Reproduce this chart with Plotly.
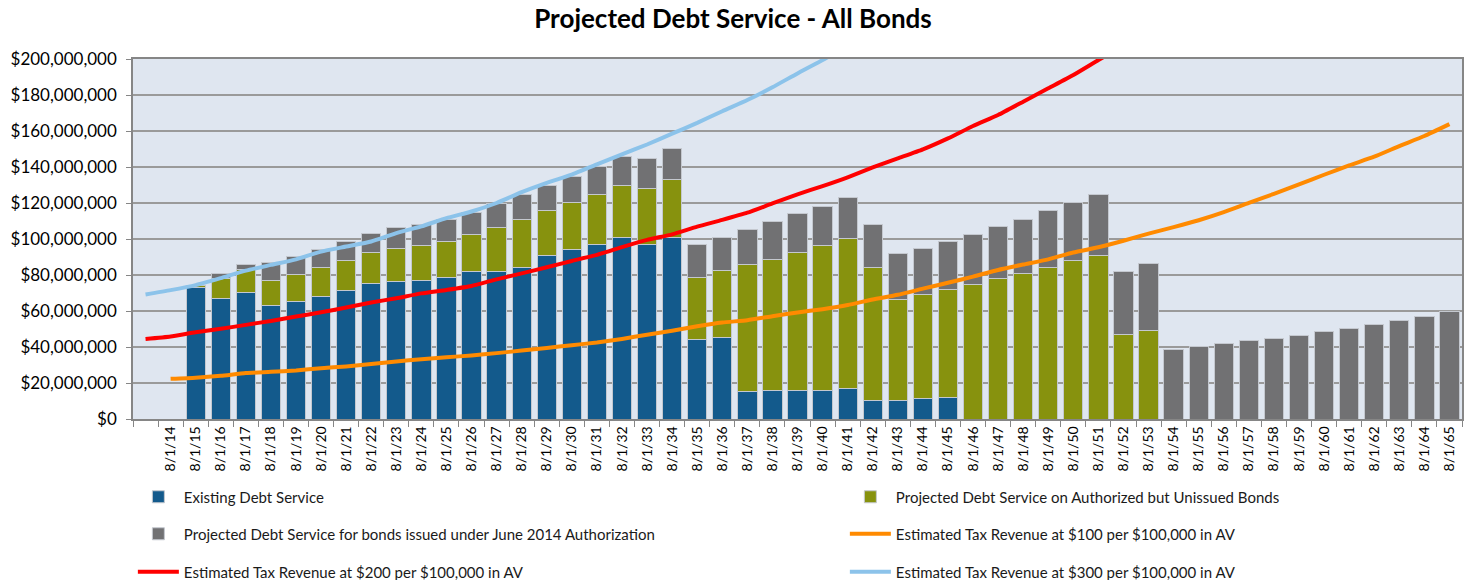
import plotly.graph_objects as go

# ---- data (values in $ millions) ----
categories = [" "] + [f"8/1/{y}" for y in range(14, 66)]

# stacked bar segments, one value per category (None = no bar)
existing = [None, None,
            73.1, 66.8, 70.1, 62.9, 65.5, 67.9, 71.6, 75.5, 76.3, 76.8,
            78.5, 81.7, 81.7, 84.1, 90.8, 94.0, 96.9, 100.8, 97.1, 100.8,
            43.9, 45.4, 15.3, 16.0, 16.0, 16.0, 16.7, 10.4, 10.4, 11.5, 12.1,
            None, None, None, None, None, None, None, None,
            None, None, None, None, None, None, None, None, None, None, None, None]

authorized = [None, None,
              0.9, 11.3, 13.1, 13.9, 14.7, 16.4, 16.2, 17.0, 18.6, 19.8,
              20.3, 20.8, 24.9, 27.0, 24.9, 26.2, 28.1, 28.7, 30.9, 32.0,
              34.8, 37.0, 70.3, 72.7, 76.5, 80.6, 83.6, 73.9, 56.0, 57.9, 59.7,
              74.8, 78.0, 80.9, 84.3, 87.8, 91.0, 46.9, 49.1,
              None, None, None, None, None, None, None, None, None, None, None, None]

june2014 = [None, None,
            None, 2.8, 2.4, 10.3, 10.0, 9.7, 11.0, 10.8, 11.5, 11.3,
            12.3, 12.3, 13.0, 13.9, 14.0, 14.7, 15.5, 16.2, 16.9, 17.5,
            18.4, 18.6, 19.5, 20.9, 21.7, 21.4, 23.0, 23.6, 25.3, 25.5, 26.8,
            27.7, 29.0, 30.2, 31.4, 32.6, 34.0, 35.3, 37.2,
            38.7, 40.3, 41.8, 43.4, 44.9, 46.6, 48.8, 50.3, 52.5, 54.9, 57.2, 59.8]

rev100 = [None,
          22.3, 22.9, 24.0, 25.5, 26.2, 27.0, 28.2, 29.2, 30.5, 32.0,
          33.2, 34.3, 35.3, 36.6, 38.0, 39.5, 41.0, 42.5, 44.5, 46.8,
          49.0, 51.5, 53.6, 54.9, 57.1, 59.2, 61.0, 63.3, 66.4, 69.0,
          72.4, 75.7, 79.1, 82.8, 85.8, 88.7, 92.5, 95.4, 99.0, 103.0,
          106.6, 110.4, 114.9, 120.1, 125.1, 130.3, 135.7, 140.9, 145.7, 151.6,
          157.2, 163.8]

rev200 = [44.4, 45.8, 48.2, 50.1, 52.3, 54.5, 56.9, 59.3, 61.9, 64.7,
          67.1, 69.8, 71.7, 73.9, 77.6, 80.9, 84.3, 87.8, 91.2, 95.5,
          99.5, 102.6, 106.9, 110.6, 114.6, 119.8, 124.8, 129.4, 134.3, 139.8,
          144.8, 149.8, 155.9, 162.8, 168.9, 176.3, 183.7, 191.1, 199.4, 207.5]

rev300 = [69.2, 71.6, 74.4, 78.3, 82.4, 85.6, 88.7, 93.0, 95.8, 98.6,
          103.3, 107.0, 111.6, 115.3, 120.0, 126.0, 131.2, 135.8, 141.4, 147.0,
          152.5, 158.5, 164.5, 171.0, 177.2, 184.3, 192.0, 199.4, 207.5]

M = 1e6


def dollars(vals):
    return [None if v is None else v * M for v in vals]


C_BLUE = "#135a8c"
C_OLIVE = "#87920e"
C_GRAY = "#717173"
C_ORANGE = "#ff8a00"
C_RED = "#ff0000"
C_LBLUE = "#8cc3ea"

FONT = "Lato, 'Open Sans', sans-serif"
bar_line = dict(color="#c4c8cf", width=1)

fig = go.Figure()
fig.add_trace(go.Bar(x=categories, y=dollars(existing), name="Existing Debt Service",
                     marker=dict(color=C_BLUE, line=bar_line), legend="legend"))
fig.add_trace(go.Bar(x=categories, y=dollars(authorized),
                     name="Projected Debt Service on Authorized but Unissued Bonds",
                     marker=dict(color=C_OLIVE, line=bar_line), legend="legend"))
fig.add_trace(go.Bar(x=categories, y=dollars(june2014),
                     name="Projected Debt Service for bonds issued under June 2014 Authorization",
                     marker=dict(color=C_GRAY, line=bar_line), legend="legend2"))
fig.add_trace(go.Scatter(x=categories[:len(rev100)], y=dollars(rev100), mode="lines",
                         name="Estimated Tax Revenue at $100 per $100,000 in AV",
                         line=dict(color=C_ORANGE, width=4, shape="spline", smoothing=0.5),
                         legend="legend2"))
fig.add_trace(go.Scatter(x=categories[:len(rev200)], y=dollars(rev200), mode="lines",
                         name="Estimated Tax Revenue at $200 per $100,000 in AV",
                         line=dict(color=C_RED, width=4, shape="spline", smoothing=0.5),
                         legend="legend3"))
fig.add_trace(go.Scatter(x=categories[:len(rev300)], y=dollars(rev300), mode="lines",
                         name="Estimated Tax Revenue at $300 per $100,000 in AV",
                         line=dict(color=C_LBLUE, width=4, shape="spline", smoothing=0.5),
                         legend="legend3"))

plot_h = 580 - 59 - 161

def legend_cfg(ypix):
    return dict(orientation="h", x=-0.0001, xanchor="left",
                y=-(ypix - 419) / plot_h, yanchor="middle",
                entrywidth=656, entrywidthmode="pixels", itemwidth=41,
                font=dict(family=FONT, size=15, color="#1a1a1a"),
                bgcolor="rgba(0,0,0,0)", traceorder="normal")

fig.update_layout(
    width=1466, height=580,
    margin=dict(l=133, r=4, t=59, b=161, autoexpand=False),
    paper_bgcolor="white",
    plot_bgcolor="#dfe6f0",
    barmode="stack",
    bargap=0.23,
    title=dict(text="<b>Projected Debt Service - All Bonds</b>", x=0.5, xanchor="center",
               y=1 - 19 / 580, yanchor="middle",
               font=dict(family=FONT, size=26, color="#000000")),
    legend=legend_cfg(497),
    legend2=legend_cfg(534),
    legend3=legend_cfg(572),
    xaxis=dict(type="category", categoryorder="array", categoryarray=categories,
               tickangle=-90, tickson="boundaries", ticks="outside", ticklen=6,
               tickcolor="#868686", showline=True, linecolor="#868686", linewidth=1.5,
               mirror=True, showgrid=False,
               tickfont=dict(family=FONT, size=14, color="#000000"),
               range=[-0.5, len(categories) - 0.5]),
    yaxis=dict(range=[0, 200 * M], dtick=20 * M, tickformat="$,.0f",
               ticks="outside", ticklen=5, tickcolor="#868686",
               showline=True, linecolor="#868686", linewidth=1.5, mirror=True,
               gridcolor="#9a9a9a", gridwidth=1.5, zeroline=False,
               ticklabelstandoff=6,
               tickfont=dict(family=FONT, size=17, color="#000000")),
)

fig.write_html("out.html")
